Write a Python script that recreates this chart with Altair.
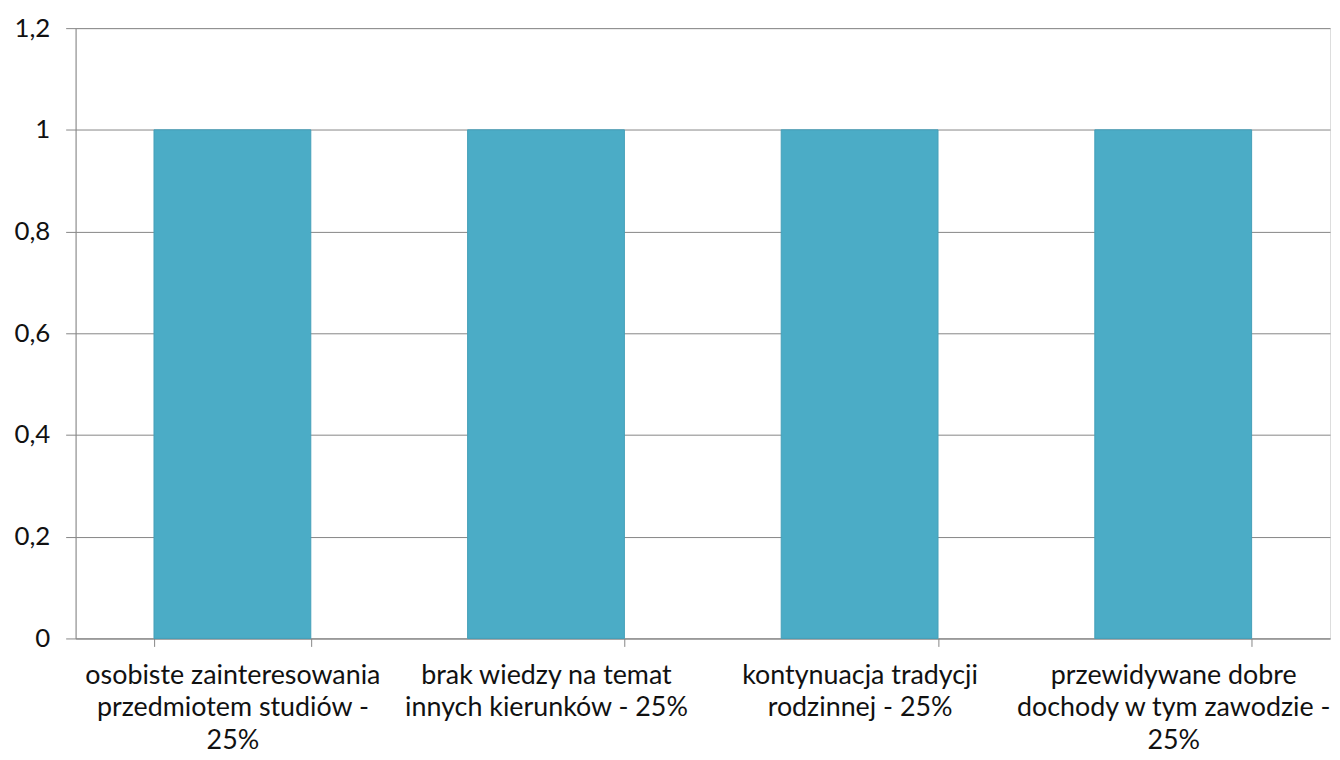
import altair as alt
import pandas as pd

categories = [
    "osobiste zainteresowania|przedmiotem studiów -|25%",
    "brak wiedzy na temat|innych kierunków - 25%",
    "kontynuacja tradycji|rodzinnej - 25%",
    "przewidywane dobre|dochody w tym zawodzie -|25%",
]
values = [1, 1, 1, 1]
y_ticks = [0, 0.2, 0.4, 0.6, 0.8, 1.0, 1.2]

df = pd.DataFrame({"cat": categories, "val": values})

FONT = "Lato"

chart = (
    alt.Chart(df)
    .mark_bar(color="#4BACC6", stroke="#459fb8", strokeWidth=1)
    .encode(
        x=alt.X(
            "cat:N",
            sort=categories,
            title=None,
            scale=alt.Scale(paddingInner=0.5, paddingOuter=0.25),
            axis=alt.Axis(
                labelAngle=0,
                labelExpr="split(datum.label, '|')",
                labelFont=FONT,
                labelFontSize=27,
                labelColor="#111111",
                labelLineHeight=33,
                labelPadding=16,
                labelBaseline="top",
                labelLimit=0,
                tickBand="extent",
                tickSize=8,
                tickColor="#868686",
                domainColor="#868686",
                grid=False,
            ),
        ),
        y=alt.Y(
            "val:Q",
            title=None,
            scale=alt.Scale(domain=[0, 1.2], nice=False),
            axis=alt.Axis(
                values=y_ticks,
                labelExpr="replace(format(datum.value, '~g'), '.', ',')",
                labelFont=FONT,
                labelFontSize=26,
                labelColor="#111111",
                labelPadding=16,
                tickSize=10,
                tickColor="#868686",
                domainColor="#868686",
                gridColor="#868686",
                gridWidth=1,
            ),
        ),
    )
    .properties(
        width=1262,
        height=614,
        autosize=alt.AutoSizeParams(type="none"),
        padding={"left": 68, "top": 18, "right": 2, "bottom": 116},
    )
    .configure_view(stroke=None)
    .configure(background="white")
)

chart.save("out.html", embed_options={"renderer": "svg", "actions": False})
